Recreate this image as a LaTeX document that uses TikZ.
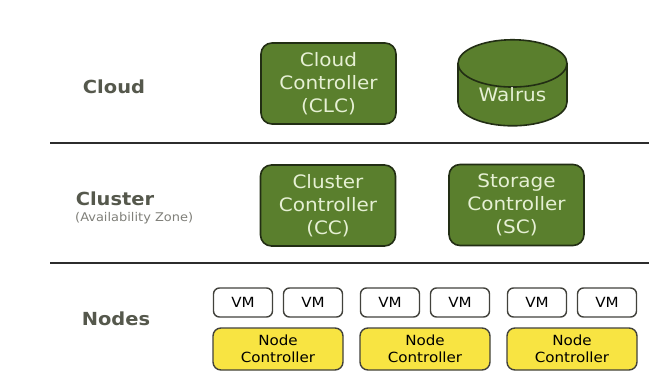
\documentclass[tikz,border=0pt]{standalone}
\usepackage{fontspec}
\setmainfont{DejaVu Sans}[FakeStretch=1.08]
\usetikzlibrary{shapes.geometric}
\definecolor{ctrlgreen}{RGB}{90,127,45}
\definecolor{greenedge}{RGB}{34,46,20}
\definecolor{greentext}{RGB}{230,240,212}
\definecolor{ncyellow}{RGB}{248,228,66}
\definecolor{boxedge}{RGB}{66,66,60}
\definecolor{labelgray}{RGB}{85,88,76}
\definecolor{zonegray}{RGB}{128,128,122}
\definecolor{linegray}{RGB}{44,44,44}
\begin{document}
\begin{tikzpicture}[x=1pt,y=-1pt,
  layer/.style={font=\fontsize{18}{22}\selectfont\bfseries,text=labelgray,inner sep=0pt,anchor=base},
  zone/.style={font=\fontsize{12}{14}\selectfont,text=zonegray,inner sep=0pt,anchor=base west},
  ctrl/.style={draw=greenedge,line width=1.6pt,fill=ctrlgreen,text=greentext,rounded corners=11pt,
    align=center,minimum width=135pt,minimum height=81pt,inner sep=0pt,font=\fontsize{18.5}{23}\selectfont},
  store/.style={cylinder,shape border rotate=90,aspect=0.7,draw=greenedge,line width=1.6pt,fill=ctrlgreen,
    text=greentext,minimum width=109pt,minimum height=82pt,inner sep=0pt,font=\fontsize{18.5}{23}\selectfont},
  vm/.style={draw=boxedge,line width=1.4pt,fill=white,rounded corners=6pt,minimum width=59pt,
    minimum height=29pt,inner sep=0pt,font=\fontsize{14}{16}\selectfont},
  nc/.style={draw=boxedge,line width=1.4pt,fill=ncyellow,rounded corners=8pt,align=center,
    minimum width=130pt,minimum height=42pt,inner sep=0pt,font=\fontsize{14}{17}\selectfont},
  divider/.style={draw=linegray,line width=2.8pt}]
 \fill[white] (0,0) rectangle (649,372);
 \useasboundingbox (0,0) rectangle (649,372);
 % layers
 \node[layer] (cloud) at (114,93) {Cloud};
 \node[layer] (cluster) at (115,205) {Cluster};
 \node[zone] (zone) at (75,221) {(Availability Zone)};
 \node[layer] (nodes) at (116,325) {Nodes};
 \draw[divider] (50,143) -- (649,143);
 \draw[divider] (50,263) -- (649,263);
 % cloud
 \node[ctrl] (clc) at (328.5,83.5) {Cloud\\Controller\\(CLC)};
 \node[store] (walrus) at (512.5,95) {Walrus};
 % cluster
 \node[ctrl] (cc) at (328,205.5) {Cluster\\Controller\\(CC)};
 \node[ctrl] (sc) at (516.5,205) {Storage\\Controller\\(SC)};
 % nodes
 \foreach \i in {1,2,3}{
   \node[nc] (nc\i) at (278+147*\i-147,349) {Node\\Controller};
   \node[vm] (vm\i a) at (243+147*\i-147,302.5) {VM};
   \node[vm] (vm\i b) at (313+147*\i-147,302.5) {VM};
 }
\end{tikzpicture}
\end{document}
